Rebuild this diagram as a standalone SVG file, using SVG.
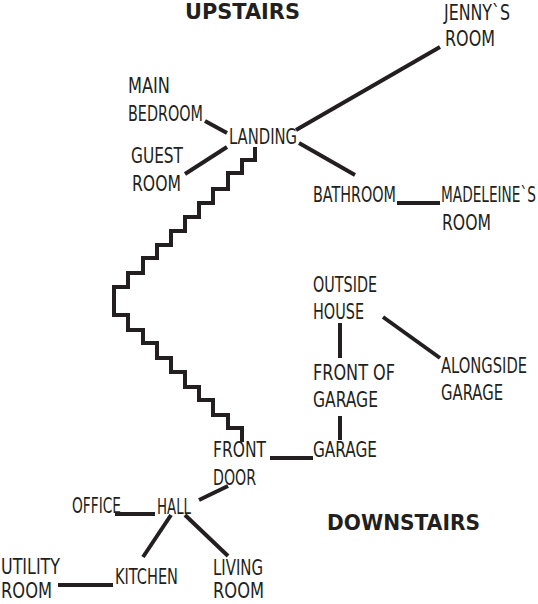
<svg xmlns="http://www.w3.org/2000/svg" width="538" height="604" viewBox="0 0 538 604">
<style>
  .l { font-family: "DejaVu Sans Condensed", "DejaVu Sans", sans-serif; font-size: 21px; fill: #231f20; }
  .h { font-family: "DejaVu Sans", "Liberation Sans", sans-serif; font-weight: 900; font-size: 22px; fill: #231f20; }
  .c { stroke: #231f20; stroke-width: 4; fill: none; stroke-linecap: butt; stroke-linejoin: miter; }
</style>
<rect width="538" height="604" fill="#ffffff"/>
<g id="connectors">
  <line class="c" x1="296" y1="130" x2="440" y2="47"/>
  <line class="c" x1="299" y1="143" x2="355" y2="175"/>
  <line class="c" x1="397" y1="203" x2="440" y2="203"/>
  <line class="c" x1="205" y1="121" x2="227" y2="133"/>
  <line class="c" x1="185" y1="174" x2="227" y2="147"/>
  <polyline id="stairs" class="c" points="255,147 255,160 242,160 242,173 228,173 228,189 213,189 213,203 199,203 199,217 185,217 185,231 171,231 171,245 157,245 157,258 143,258 143,273 128,273 128,287 114,287 114,315 128,315 128,330 143,330 143,343 157,343 157,358 171,358 171,372 185,372 185,387 199,387 199,400 213,400 213,415 228,415 228,428 242,428 242,442"/>
  <line class="c" x1="270" y1="458" x2="313" y2="458"/>
  <line class="c" x1="340" y1="323" x2="340" y2="358"/>
  <line class="c" x1="340" y1="416" x2="340" y2="440"/>
  <line class="c" x1="383" y1="317" x2="440" y2="358"/>
  <line class="c" x1="228" y1="486" x2="199" y2="500"/>
  <line class="c" x1="115" y1="514" x2="155" y2="514"/>
  <line class="c" x1="171" y1="515" x2="143" y2="557"/>
  <line class="c" x1="185" y1="515" x2="228" y2="556"/>
  <line class="c" x1="58" y1="585" x2="113" y2="585"/>
</g>
<g id="upstairs"><text class="h" x="185" y="19" textLength="115" lengthAdjust="spacingAndGlyphs">UPSTAIRS</text></g>
<g id="downstairs"><text class="h" x="327" y="530" textLength="153" lengthAdjust="spacingAndGlyphs">DOWNSTAIRS</text></g>
<g id="jennys-room">
  <text class="l" x="444" y="20" textLength="66" lengthAdjust="spacingAndGlyphs">JENNY`S</text>
  <text class="l" x="445" y="46" textLength="50" lengthAdjust="spacingAndGlyphs">ROOM</text>
</g>
<g id="main-bedroom">
  <text class="l" x="128" y="93" textLength="42" lengthAdjust="spacingAndGlyphs">MAIN</text>
  <text class="l" x="128" y="121" textLength="75" lengthAdjust="spacingAndGlyphs">BEDROOM</text>
</g>
<g id="landing"><text class="l" x="229" y="144" textLength="68" lengthAdjust="spacingAndGlyphs">LANDING</text></g>
<g id="guest-room">
  <text class="l" x="131" y="163" textLength="52" lengthAdjust="spacingAndGlyphs">GUEST</text>
  <text class="l" x="132" y="191" textLength="49" lengthAdjust="spacingAndGlyphs">ROOM</text>
</g>
<g id="bathroom"><text class="l" x="313" y="202" textLength="83" lengthAdjust="spacingAndGlyphs">BATHROOM</text></g>
<g id="madeleines-room">
  <g transform="translate(441 202) scale(0.725 1)"><text class="l" x="0" y="0" textLength="131" lengthAdjust="spacingAndGlyphs">MADELEINE`S</text></g>
  <text class="l" x="442" y="230" textLength="49" lengthAdjust="spacingAndGlyphs">ROOM</text>
</g>
<g id="outside-house">
  <text class="l" x="313" y="292" textLength="64" lengthAdjust="spacingAndGlyphs">OUTSIDE</text>
  <text class="l" x="313" y="319" textLength="51" lengthAdjust="spacingAndGlyphs">HOUSE</text>
</g>
<g id="front-of-garage">
  <text class="l" x="313" y="380" textLength="82" lengthAdjust="spacingAndGlyphs">FRONT OF</text>
  <text class="l" x="313" y="407" textLength="65" lengthAdjust="spacingAndGlyphs">GARAGE</text>
</g>
<g id="alongside-garage">
  <g transform="translate(441 373) scale(0.775 1)"><text class="l" x="0" y="0" textLength="111" lengthAdjust="spacingAndGlyphs">ALONGSIDE</text></g>
  <text class="l" x="441" y="400" textLength="62" lengthAdjust="spacingAndGlyphs">GARAGE</text>
</g>
<g id="garage"><text class="l" x="313" y="457" textLength="64" lengthAdjust="spacingAndGlyphs">GARAGE</text></g>
<g id="front-door">
  <text class="l" x="213" y="457" textLength="53" lengthAdjust="spacingAndGlyphs">FRONT</text>
  <text class="l" x="213" y="485" textLength="43" lengthAdjust="spacingAndGlyphs">DOOR</text>
</g>
<g id="office"><text class="l" x="72" y="513" textLength="49" lengthAdjust="spacingAndGlyphs">OFFICE</text></g>
<g id="hall"><text class="l" x="157" y="514" textLength="34" lengthAdjust="spacingAndGlyphs">HALL</text></g>
<g id="utility-room">
  <text class="l" x="1" y="574" textLength="59" lengthAdjust="spacingAndGlyphs">UTILITY</text>
  <text class="l" x="1" y="598" textLength="51" lengthAdjust="spacingAndGlyphs">ROOM</text>
</g>
<g id="kitchen"><text class="l" x="115" y="584" textLength="63" lengthAdjust="spacingAndGlyphs">KITCHEN</text></g>
<g id="living-room">
  <text class="l" x="213" y="575" textLength="50" lengthAdjust="spacingAndGlyphs">LIVING</text>
  <text class="l" x="213" y="598" textLength="51" lengthAdjust="spacingAndGlyphs">ROOM</text>
</g>
</svg>
